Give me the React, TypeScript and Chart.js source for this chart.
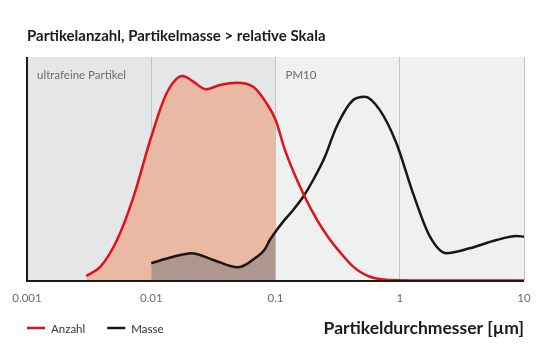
import React, { useEffect, useRef } from "react";
import { Chart, registerables } from "chart.js";

Chart.register(...registerables);

const titleText = "Partikelanzahl, Partikelmasse > relative Skala";
const axisTitle = "Partikeldurchmesser [µm]";
const tickValues = [0.001, 0.01, 0.1, 1, 10];
const tickLabels = ["0.001", "0.01", "0.1", "1", "10"];
const regionLabels = ["ultrafeine Partikel", "PM10"];
const regionStarts = [0.001, 0.1];
const regionEnds = [0.1, 10];
const seriesNames = ["Anzahl", "Masse"];

const anzahlX = [0.003, 0.0039, 0.0053, 0.0072, 0.01, 0.0133, 0.0179, 0.0218, 0.0275, 0.0357, 0.0486, 0.0662, 0.0848, 0.1, 0.12, 0.167, 0.22, 0.27, 0.32, 0.422, 0.575, 0.94, 2, 5, 10];
const anzahlY = [2.2, 6.4, 18.3, 37.6, 64.4, 83.8, 91.5, 89, 85.6, 87.5, 88.5, 86.7, 79.3, 72, 58, 39.1, 26.5, 19, 13.8, 6.4, 1.9, 0.3, 0.2, 0.2, 0.2];

const masseX = [0.01, 0.015, 0.0211, 0.0316, 0.05, 0.0705, 0.0813, 0.09, 0.1, 0.1153, 0.1388, 0.167, 0.201, 0.25, 0.31, 0.422, 0.524, 0.692, 0.94, 1.28, 1.75, 2.38, 3.66, 6.01, 8.7, 10];
const masseY = [7.9, 10.8, 12.4, 9.4, 6.1, 10.7, 13.8, 18.3, 22, 26.5, 31.7, 37.6, 45.1, 55.5, 68.9, 80.8, 82.3, 76.3, 61.5, 39.1, 19.8, 12.4, 14.6, 18.3, 20.1, 19.8];

const fillLimit = 0.1;

const RED = "#e2101b";
const BLACK = "#1e1412";
const SALMON = "#e9b9a3";
const BROWN = "#ae978f";
const BAND_COLORS = ["#e5e6e8", "#eff0f0"];

const toPts = (xs: number[], ys: number[]) => xs.map((x, i) => ({ x, y: ys[i] }));

const FONT = "Lato, 'Open Sans', sans-serif";

const decoPlugin = {
  id: "deco",
  beforeDraw(chart: any) {
    const { ctx, chartArea, scales } = chart;
    const xs = scales.x;
    ctx.save();
    regionStarts.forEach((s, i) => {
      const l = xs.getPixelForValue(s);
      const r = xs.getPixelForValue(regionEnds[i]);
      ctx.fillStyle = BAND_COLORS[i];
      ctx.fillRect(l, chartArea.top, r - l, chartArea.bottom - chartArea.top);
    });
    ctx.restore();
  },
  afterDatasetsDraw(chart: any) {
    const { ctx, chartArea, scales } = chart;
    const xs = scales.x;
    ctx.save();
    ctx.strokeStyle = "#1a1a1a";
    ctx.lineWidth = 2;
    ctx.beginPath();
    ctx.moveTo(chartArea.left, chartArea.top);
    ctx.lineTo(chartArea.left, chartArea.bottom);
    ctx.lineTo(chartArea.right, chartArea.bottom);
    ctx.stroke();
    ctx.fillStyle = "#6e6e6e";
    ctx.font = `11.5px ${FONT}`;
    ctx.textBaseline = "middle";
    ctx.textAlign = "left";
    regionStarts.forEach((s, i) => {
      ctx.fillText(regionLabels[i], xs.getPixelForValue(s) + 10, chartArea.top + 18);
    });
    ctx.restore();
  },
  afterDraw(chart: any) {
    const { ctx, chartArea } = chart;
    ctx.save();
    ctx.fillStyle = "#1a1a1a";
    ctx.textBaseline = "middle";
    ctx.font = `bold 15px ${FONT}`;
    ctx.textAlign = "left";
    ctx.fillText(titleText, chartArea.left, 36);
    ctx.font = `bold 17.5px ${FONT}`;
    ctx.textAlign = "right";
    ctx.fillText(axisTitle, chartArea.right, 328);
    const colors = [RED, BLACK];
    let x = chartArea.left;
    ctx.font = `11.5px ${FONT}`;
    ctx.textAlign = "left";
    seriesNames.forEach((n, i) => {
      ctx.strokeStyle = colors[i];
      ctx.lineWidth = 2.5;
      ctx.beginPath();
      ctx.moveTo(x, 328);
      ctx.lineTo(x + 18, 328);
      ctx.stroke();
      ctx.fillStyle = "#333";
      ctx.fillText(n, x + 24, 329);
      x += 24 + ctx.measureText(n).width + 22;
    });
    ctx.restore();
  },
};

export default function App() {
  const ref = useRef<HTMLCanvasElement>(null);
  useEffect(() => {
    const fillSeg = (color: string) => ({
      backgroundColor: (c: any) => (c.p0.parsed.x < fillLimit ? color : "rgba(0,0,0,0)"),
    });
    const chart = new Chart(ref.current!, {
      type: "line",
      data: {
        datasets: [
          {
            label: seriesNames[0],
            data: toPts(anzahlX, anzahlY),
            borderColor: RED,
            borderWidth: 2.5,
            pointRadius: 0,
            cubicInterpolationMode: "monotone",
            fill: false,
            order: 1,
          },
          {
            label: seriesNames[1],
            data: toPts(masseX, masseY),
            borderColor: BLACK,
            borderWidth: 2.5,
            pointRadius: 0,
            cubicInterpolationMode: "monotone",
            fill: false,
            order: 2,
          },
          {
            label: "fill-masse",
            data: toPts(masseX, masseY),
            borderWidth: 0,
            borderColor: "rgba(0,0,0,0)",
            backgroundColor: BROWN,
            pointRadius: 0,
            cubicInterpolationMode: "monotone",
            fill: "origin",
            segment: fillSeg(BROWN),
            order: 3,
          },
          {
            label: "fill-anzahl",
            data: toPts(anzahlX, anzahlY),
            borderWidth: 0,
            borderColor: "rgba(0,0,0,0)",
            backgroundColor: SALMON,
            pointRadius: 0,
            cubicInterpolationMode: "monotone",
            fill: "origin",
            segment: fillSeg(SALMON),
            order: 4,
          },
        ] as any,
      },
      options: {
        animation: false,
        responsive: false,
        maintainAspectRatio: false,
        layout: { padding: { left: 27, right: 30, top: 57, bottom: 53 } },
        plugins: {
          legend: { display: false },
          title: { display: false },
          tooltip: { enabled: false },
        },
        scales: {
          x: {
            type: "logarithmic",
            min: 0.001,
            max: 10,
            afterBuildTicks: (s: any) => {
              s.ticks = tickValues.map((v) => ({ value: v }));
            },
            afterFit: (s: any) => {
              s.height = 24;
            },
            ticks: {
              autoSkip: false,
              maxRotation: 0,
              padding: 10,
              color: "#6a6a6a",
              font: { family: FONT, size: 11.5 },
              callback: (v: any) => {
                const i = tickValues.findIndex((t) => Math.abs(t - v) < t * 1e-6);
                return i >= 0 ? tickLabels[i] : "";
              },
            },
            grid: { color: "#c4c4c4", lineWidth: 1, drawTicks: false },
            border: { display: false },
          },
          y: {
            min: 0,
            max: 100,
            display: true,
            ticks: { display: false },
            grid: { display: false, drawTicks: false },
            border: { display: false },
            afterFit: (s: any) => {
              s.width = 0;
            },
          },
        },
      } as any,
      plugins: [decoPlugin],
    });
    return () => chart.destroy();
  }, []);
  return (
    <div style={{ position: "absolute", left: 0, top: 0, width: 554, height: 358, background: "#fff" }}>
      <canvas ref={ref} width={554} height={358} style={{ width: 554, height: 358 }} />
    </div>
  );
}
